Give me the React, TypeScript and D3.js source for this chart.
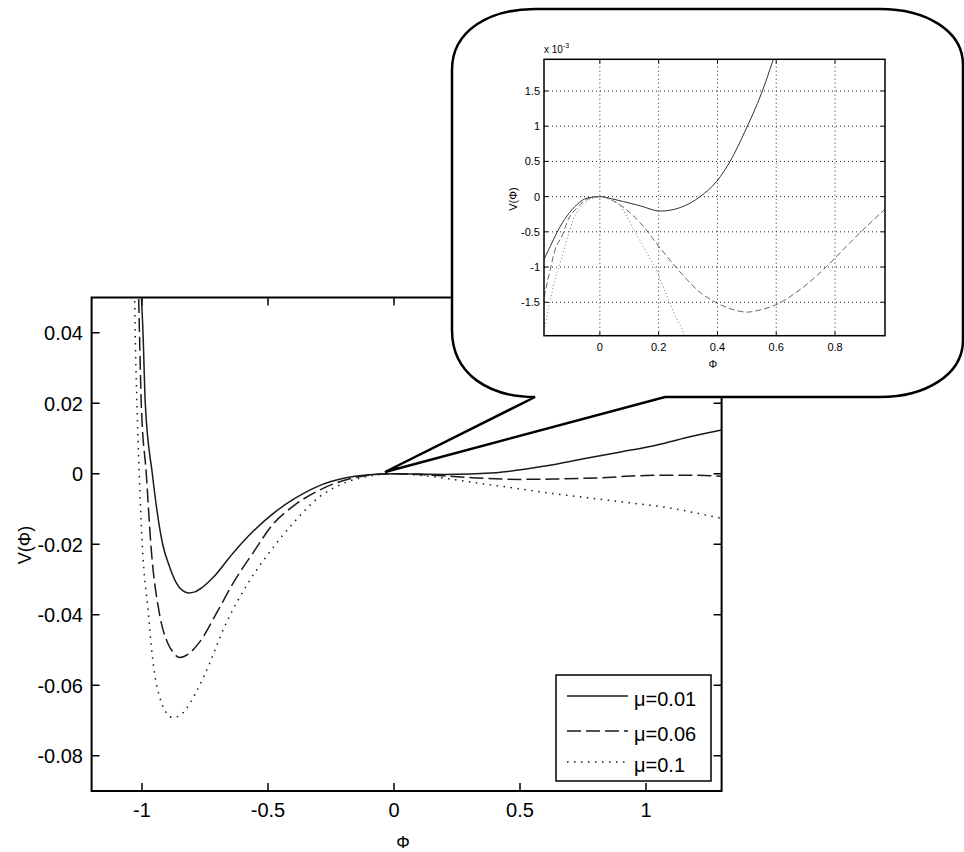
import * as d3 from 'd3';
import { useEffect, useRef } from 'react';

// main plot, V(Φ) for three μ values
const phiA = [-1.006, -0.996, -0.987, -0.959, -0.918, -0.89, -0.865, -0.84, -0.815, -0.79, -0.76, -0.72, -0.64, -0.56, -0.48, -0.4, -0.3, -0.2, -0.1, 0, 0.2, 0.406, 0.6, 0.763, 0.9, 1.027, 1.15, 1.3];
const vA = [0.055, 0.04, 0.02, 0, -0.02, -0.0265, -0.0308, -0.0331, -0.0338, -0.0335, -0.0322, -0.0296, -0.0226, -0.0164, -0.0113, -0.0073, -0.0035, -0.0013, -0.0003, 0, -0.0002, 0.0003, 0.0022, 0.0044, 0.0062, 0.0079, 0.0101, 0.0124];

const phiB = [-1.015, -1.01, -1.003, -0.983, -0.965, -0.93, -0.898, -0.875, -0.851, -0.81, -0.771, -0.7, -0.639, -0.56, -0.48, -0.4, -0.295, -0.2, -0.1, 0, 0.15, 0.327, 0.5, 0.63, 0.8, 1.0, 1.15, 1.3];
const vB = [0.055, 0.04, 0.02, 0, -0.02, -0.04, -0.048, -0.0508, -0.0521, -0.0508, -0.0477, -0.039, -0.0311, -0.0225, -0.0143, -0.0092, -0.0046, -0.0019, -0.0004, 0, -0.0004, -0.0012, -0.0016, -0.0015, -0.0012, -0.0005, -0.0004, -0.0007];

const phiC = [-1.03, -1.027, -1.02, -1.011, -0.999, -0.974, -0.963, -0.948, -0.93, -0.91, -0.881, -0.851, -0.824, -0.752, -0.666, -0.58, -0.507, -0.401, -0.295, -0.2, -0.1, 0, 0.15, 0.3, 0.45, 0.63, 0.895, 1.1, 1.3];
const vC = [0.055, 0.04, 0.02, 0, -0.02, -0.04, -0.049, -0.0576, -0.0633, -0.067, -0.0691, -0.0687, -0.0666, -0.0571, -0.0424, -0.0311, -0.0235, -0.0141, -0.0065, -0.0027, -0.0007, 0, -0.0008, -0.0023, -0.0038, -0.0056, -0.0079, -0.0098, -0.0127];

const legendLabels = ['\u03bc=0.01', '\u03bc=0.06', '\u03bc=0.1'];
const xTicks = [-1, -0.5, 0, 0.5, 1];
const yTicks = [-0.08, -0.06, -0.04, -0.02, 0, 0.02, 0.04];

// zoomed inset, values in units of 1e-3
const inPhiA = [-0.19, -0.168, -0.146, -0.112, -0.077, -0.043, 0, 0.04, 0.08, 0.137, 0.205, 0.273, 0.341, 0.398, 0.443, 0.494, 0.55, 0.59, 0.62];
const inVA = [-0.89, -0.7, -0.51, -0.275, -0.11, -0.02, 0, -0.03, -0.07, -0.13, -0.205, -0.156, 0.0, 0.22, 0.5, 0.93, 1.47, 1.95, 2.35];

const inPhiB = [-0.19, -0.169, -0.152, -0.129, -0.107, -0.078, -0.033, 0, 0.058, 0.137, 0.205, 0.273, 0.341, 0.398, 0.45, 0.5, 0.545, 0.602, 0.681, 0.772, 0.84, 0.908, 0.97];
const inVB = [-1.43, -1.04, -0.75, -0.56, -0.32, -0.16, -0.02, 0, -0.09, -0.37, -0.73, -1.07, -1.36, -1.51, -1.6, -1.64, -1.61, -1.53, -1.32, -0.99, -0.7, -0.42, -0.18];

const inPhiC = [-0.19, -0.175, -0.158, -0.135, -0.112, -0.09, -0.056, -0.022, 0, 0.03, 0.069, 0.114, 0.16, 0.194, 0.228, 0.262, 0.284, 0.3];
const inVC = [-1.9, -1.6, -1.27, -0.94, -0.61, -0.32, -0.11, -0.02, 0, -0.03, -0.13, -0.46, -0.8, -1.06, -1.41, -1.74, -1.93, -2.2];

const inXTicks = [0, 0.2, 0.4, 0.6, 0.8];
const inYTicks = [-1.5, -1, -0.5, 0, 0.5, 1, 1.5];

const FONT = "'Liberation Sans', Arial, Helvetica, sans-serif";

function App() {
  const svgRef = useRef<SVGSVGElement>(null);

  useEffect(() => {
    const svg = d3.select(svgRef.current);
    svg.selectAll('*').remove();

    const x = d3.scaleLinear().domain([-1.2, 1.3]).range([91.6, 721.6]);
    const y = d3.scaleLinear().domain([-0.09, 0.05]).range([791, 297.5]);
    const [x0, x1] = x.range();
    const [y0, y1] = y.range();

    const defs = svg.append('defs');
    defs.append('clipPath').attr('id', 'mainClip')
      .append('rect').attr('x', x0).attr('y', y1).attr('width', x1 - x0).attr('height', y0 - y1);

    // main axes box + ticks
    const axes = svg.append('g');
    axes.append('rect')
      .attr('x', x0).attr('y', y1).attr('width', x1 - x0).attr('height', y0 - y1)
      .attr('fill', 'white').attr('stroke', 'black').attr('stroke-width', 2);

    xTicks.forEach(t => {
      axes.append('line').attr('x1', x(t)).attr('x2', x(t)).attr('y1', y0).attr('y2', y0 - 8).attr('stroke', 'black').attr('stroke-width', 1.5);
      axes.append('line').attr('x1', x(t)).attr('x2', x(t)).attr('y1', y1).attr('y2', y1 + 8).attr('stroke', 'black').attr('stroke-width', 1.5);
      axes.append('text').attr('x', x(t)).attr('y', 817).attr('text-anchor', 'middle')
        .style('font', `20px ${FONT}`).text(String(t));
    });
    yTicks.forEach(t => {
      axes.append('line').attr('x1', x0).attr('x2', x0 + 8).attr('y1', y(t)).attr('y2', y(t)).attr('stroke', 'black').attr('stroke-width', 1.5);
      axes.append('line').attr('x1', x1).attr('x2', x1 - 8).attr('y1', y(t)).attr('y2', y(t)).attr('stroke', 'black').attr('stroke-width', 1.5);
      axes.append('text').attr('x', 83).attr('y', y(t) + 7.5).attr('text-anchor', 'end')
        .style('font', `20px ${FONT}`).text(String(t));
    });

    axes.append('text').attr('x', 403).attr('y', 848).attr('text-anchor', 'middle')
      .style('font', `17px ${FONT}`).text('\u03a6');
    axes.append('text').attr('transform', 'translate(31,545) rotate(-90)').attr('text-anchor', 'middle')
      .style('font', `18px ${FONT}`).text('V(\u03a6)');

    const series = [
      { phi: phiA, v: vA, dash: null },
      { phi: phiB, v: vB, dash: '14,5' },
      { phi: phiC, v: vC, dash: '1.5,5.5' },
    ];

    const line = d3.line<[number, number]>()
      .x(d => x(d[0])).y(d => y(d[1]))
      .curve(d3.curveMonotoneX);

    const curves = svg.append('g').attr('clip-path', 'url(#mainClip)');
    series.forEach(s => {
      const pts = s.phi.map((p, i) => [p, s.v[i]] as [number, number]);
      curves.append('path').attr('d', line(pts))
        .attr('fill', 'none').attr('stroke', '#1a1a1a').attr('stroke-width', 1.5)
        .attr('stroke-dasharray', s.dash);
    });

    // legend
    const lg = svg.append('g');
    lg.append('rect').attr('x', 556).attr('y', 675).attr('width', 155).attr('height', 106)
      .attr('fill', 'white').attr('stroke', 'black').attr('stroke-width', 1.5);
    const rows = [696, 731, 762];
    series.forEach((s, i) => {
      lg.append('line').attr('x1', 567).attr('x2', 628).attr('y1', rows[i]).attr('y2', rows[i])
        .attr('stroke', '#1a1a1a').attr('stroke-width', 1.5).attr('stroke-dasharray', s.dash);
      lg.append('text').attr('x', 634).attr('y', rows[i] + 10)
        .style('font', `20px ${FONT}`).text(legendLabels[i]);
    });

    // callout bubble
    svg.append('path')
      .attr('d', 'M 535 9 L 880 9 C 925 9, 963 30, 963 65 L 963 340 C 963 375, 925 397, 880 397 L 665 397 L 385 472 L 535 397 C 490 397, 452 375, 452 330 L 452 70 C 452 30, 490 9, 535 9 Z')
      .attr('fill', 'white').attr('stroke', 'black').attr('stroke-width', 2.5).attr('stroke-linejoin', 'miter');

    // inset
    const ix = d3.scaleLinear().domain([-0.19, 0.97]).range([544, 885]);
    const iy = d3.scaleLinear().domain([-1.975, 1.95]).range([335.7, 59.3]);
    const [ix0, ix1] = ix.range();
    const [iy0, iy1] = iy.range();

    defs.append('clipPath').attr('id', 'insetClip')
      .append('rect').attr('x', ix0).attr('y', iy1).attr('width', ix1 - ix0).attr('height', iy0 - iy1);

    const ins = svg.append('g');
    inXTicks.forEach(t => {
      ins.append('line').attr('x1', ix(t)).attr('x2', ix(t)).attr('y1', iy0).attr('y2', iy1)
        .attr('stroke', '#222').attr('stroke-width', 1).attr('stroke-dasharray', '1,3');
      ins.append('line').attr('x1', ix(t)).attr('x2', ix(t)).attr('y1', iy0).attr('y2', iy0 - 4).attr('stroke', 'black');
      ins.append('line').attr('x1', ix(t)).attr('x2', ix(t)).attr('y1', iy1).attr('y2', iy1 + 4).attr('stroke', 'black');
      ins.append('text').attr('x', ix(t)).attr('y', 351).attr('text-anchor', 'middle')
        .style('font', `11px ${FONT}`).text(String(t));
    });
    inYTicks.forEach(t => {
      ins.append('line').attr('x1', ix0).attr('x2', ix1).attr('y1', iy(t)).attr('y2', iy(t))
        .attr('stroke', '#222').attr('stroke-width', 1).attr('stroke-dasharray', '1,3');
      ins.append('line').attr('x1', ix0).attr('x2', ix0 + 4).attr('y1', iy(t)).attr('y2', iy(t)).attr('stroke', 'black');
      ins.append('line').attr('x1', ix1).attr('x2', ix1 - 4).attr('y1', iy(t)).attr('y2', iy(t)).attr('stroke', 'black');
      ins.append('text').attr('x', 540).attr('y', iy(t) + 4).attr('text-anchor', 'end')
        .style('font', `11px ${FONT}`).text(String(t));
    });

    const iline = d3.line<[number, number]>()
      .x(d => ix(d[0])).y(d => iy(d[1]))
      .curve(d3.curveMonotoneX);
    const insetSeries = [
      { phi: inPhiA, v: inVA, dash: null, color: '#333' },
      { phi: inPhiB, v: inVB, dash: '6,3', color: '#666' },
      { phi: inPhiC, v: inVC, dash: '1,2.5', color: '#777' },
    ];
    const icurves = ins.append('g').attr('clip-path', 'url(#insetClip)');
    insetSeries.forEach(s => {
      const pts = s.phi.map((p, i) => [p, s.v[i]] as [number, number]);
      icurves.append('path').attr('d', iline(pts))
        .attr('fill', 'none').attr('stroke', s.color).attr('stroke-width', 1)
        .attr('stroke-dasharray', s.dash);
    });

    ins.append('rect').attr('x', ix0).attr('y', iy1).attr('width', ix1 - ix0).attr('height', iy0 - iy1)
      .attr('fill', 'none').attr('stroke', 'black').attr('stroke-width', 1.5);

    const expo = ins.append('text').attr('x', 544).attr('y', 53).style('font', `10px ${FONT}`);
    expo.append('tspan').text('x 10');
    expo.append('tspan').attr('dy', -5).style('font-size', '7px').text('-3');

    ins.append('text').attr('x', 713).attr('y', 368).attr('text-anchor', 'middle')
      .style('font', `11px ${FONT}`).text('\u03a6');
    ins.append('text').attr('transform', 'translate(517,199) rotate(-90)').attr('text-anchor', 'middle')
      .style('font', `11px ${FONT}`).text('V(\u03a6)');
  }, []);

  return (
    <svg ref={svgRef} width={964} height={852}
      style={{ position: 'absolute', left: 0, top: 0, background: 'white' }} />
  );
}

export default App;
